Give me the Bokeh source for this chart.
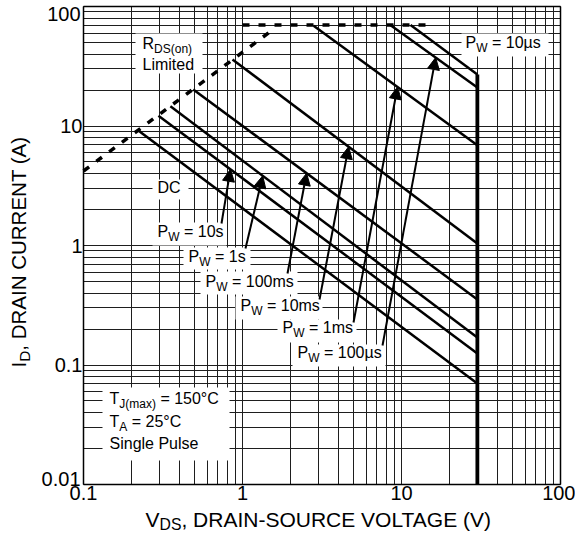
import math
from bokeh.plotting import figure
from bokeh.models import (FixedTicker, CustomJSTickFormatter, Label, Arrow,
                          NormalHead, ColumnDataSource, LogAxis)
from bokeh.core.properties import value
from bokeh.embed import file_html
from bokeh.resources import INLINE

# ---------------- data ----------------
pulse_labels = ["DC", "10s", "1s", "100ms", "10ms", "1ms", "100µs", "10µs"]
v_start = [0.22, 0.296, 0.352, 0.49, 0.865, 2.8, 8.5, 11.4]
i_start = [9.2, 12.2, 14.6, 20.2, 36.0, 69.0, 70.0, 70.0]
v_end = [30, 30, 30, 30, 30, 30, 30, 30]
i_end = [0.07, 0.125, 0.17, 0.354, 1.04, 6.9, 21.0, 27.0]

rds_v = [0.1, 1.6]          # R_DS(on) limit
rds_i = [4.2, 66.0]
idm_v = [1.0, 16.0]         # pulsed current limit
idm_i = [70.0, 70.0]
vmax_v = [30, 30]           # V_DS(max) limit
vmax_i = [0.01, 27.0]

x_lim = (0.1, 100)
y_lim = (0.01, 100)
x_major = [0.1, 1, 10, 100]
y_major = [0.1, 1, 10]
y_grid_major = [0.01, 0.1, 1, 10, 100]
x_decades = [-1, 0, 1]
y_decades = [-2, -1, 0, 1]
minor_mult = [2, 3, 4, 5, 6, 7, 8, 9]

arrow_pulse = ["10s", "1s", "100ms", "10ms", "1ms", "100µs"]
arrow_tip_v = [0.84, 1.34, 2.53, 4.65, 9.44, 16.4]

FONT = "Liberation Sans"
W_PX, H_PX = 575, 533
MID = 0.3465   # distance (in em) from alphabetic baseline up to the 'middle' anchor

# ---------------- helpers: page pixel -> data (log axes) ----------------
def dx(px):
    return 0.1 * 10 ** ((px - 83) / 159.0)

def dy(py):
    return 0.01 * 10 ** ((484 - py) / 119.5)

WID = {' ': 278, '(': 333, ')': 333, ',': 278, '-': 333, '.': 278, '=': 584,
       '°': 400, 'µ': 576, 'A': 667, 'C': 722, 'D': 722, 'E': 667, 'G': 778,
       'I': 278, 'J': 500, 'L': 556, 'N': 722, 'O': 778, 'P': 667, 'R': 722,
       'S': 667, 'T': 611, 'U': 722, 'V': 667, 'W': 944, 'a': 556, 'e': 556,
       'g': 556, 'i': 222, 'l': 222, 'm': 833, 'n': 556, 'o': 556, 's': 500,
       't': 278, 'u': 556, 'x': 500, 'd': 556}

def tw(s, size):
    return sum(WID.get(c, 556) for c in s) * size / 1000.0

def on_line(k, v):
    a, b = math.log(v_start[k]), math.log(v_end[k])
    t = (math.log(v) - a) / (b - a)
    return math.exp(math.log(i_start[k]) + t * (math.log(i_end[k]) - math.log(i_start[k])))

# ---------------- figure (frame = whole canvas; axes fixed at the chart box) ----
p = figure(width=W_PX, height=H_PX, x_axis_type="log", y_axis_type="log",
           x_range=(dx(0), dx(W_PX)), y_range=(dy(H_PX), dy(0)),
           output_backend="svg", toolbar_location=None)
p.min_border = 0
p.min_border_left = 0
p.min_border_right = 0
p.min_border_top = 0
p.min_border_bottom = 0
p.background_fill_color = "white"
p.border_fill_color = "white"
p.outline_line_color = None

minor_x = [m * 10 ** d for d in x_decades for m in minor_mult]
minor_y = [m * 10 ** d for d in y_decades for m in minor_mult]
p.xaxis.ticker = FixedTicker(ticks=x_major, minor_ticks=minor_x)
p.yaxis.ticker = FixedTicker(ticks=y_major, minor_ticks=minor_y)
p.xgrid.ticker = FixedTicker(ticks=x_major, minor_ticks=minor_x)
p.ygrid.ticker = FixedTicker(ticks=y_grid_major, minor_ticks=minor_y)
p.xgrid.bounds = x_lim
p.xgrid.cross_bounds = y_lim
p.ygrid.bounds = y_lim
p.ygrid.cross_bounds = x_lim
for g in (p.xgrid[0], p.ygrid[0]):
    g.grid_line_color = "#1e1e1e"
    g.grid_line_width = 1
    g.minor_grid_line_color = "#1e1e1e"
    g.minor_grid_line_width = 1

p.xaxis.fixed_location = y_lim[0]
p.xaxis.bounds = x_lim
p.yaxis.fixed_location = x_lim[0]
p.yaxis.bounds = y_lim
for ax in (p.xaxis[0], p.yaxis[0]):
    ax.major_tick_out = 0
    ax.major_tick_in = 0
    ax.minor_tick_out = 0
    ax.minor_tick_in = 0
    ax.axis_line_color = "black"
    ax.axis_line_width = 1.5
    ax.major_label_text_font = FONT
    ax.major_label_text_font_size = "20px"
    ax.major_label_text_color = "black"
    ax.formatter = CustomJSTickFormatter(code="return String(tick)")
p.xaxis.major_label_standoff = 1
p.yaxis.major_label_standoff = 1

# top and right border of the chart box
top_ax = LogAxis(fixed_location=y_lim[1], bounds=x_lim, ticker=FixedTicker(ticks=[]),
                 major_tick_out=0, major_tick_in=0, minor_tick_out=0, minor_tick_in=0,
                 axis_line_color="black", axis_line_width=1.5,
                 major_label_text_font_size="0px")
right_ax = LogAxis(fixed_location=x_lim[1], bounds=y_lim, ticker=FixedTicker(ticks=[]),
                   major_tick_out=0, major_tick_in=0, minor_tick_out=0, minor_tick_in=0,
                   axis_line_color="black", axis_line_width=1.5,
                   major_label_text_font_size="0px")
p.add_layout(top_ax, "above")
p.add_layout(right_ax, "right")

# ---------------- white label boxes ----------------
boxes = [(135, 33, 202, 73), (461, 33, 548, 56), (152, 179, 188, 199),
         (152, 222, 226, 245), (183, 247, 250, 269), (200, 271, 297, 294),
         (235, 296, 322, 319), (277, 319, 356, 342), (292, 344, 385, 366),
         (102, 387, 229, 460)]
p.quad(left=[dx(b[0]) for b in boxes], right=[dx(b[2]) for b in boxes],
       top=[dy(b[1]) for b in boxes], bottom=[dy(b[3]) for b in boxes],
       fill_color="white", line_color=None)

# ---------------- curves ----------------
p.line(rds_v, rds_i, line_color="black", line_width=3.5, line_dash="7 9")
p.line(idm_v, idm_i, line_color="black", line_width=3.5, line_dash="7 9")
p.multi_line(xs=[[a, b] for a, b in zip(v_start, v_end)],
             ys=[[a, b] for a, b in zip(i_start, i_end)],
             line_color="black", line_width=2.5)
p.line(vmax_v, vmax_i, line_color="black", line_width=3.8)

# ---------------- in-plot text (with subscripts) ----------------
tx, ty, tt, tf = [], [], [], []

def rich(px, py, parts, size=16):
    cx = px
    for text, sub in parts:
        s = size * 0.75 if sub else size
        yy = py + 4 if sub else py
        lead = len(text) - len(text.lstrip(" "))
        cx += tw(" " * lead, s)
        body = text.lstrip(" ")
        tx.append(dx(cx)); ty.append(dy(yy - MID * s)); tt.append(body); tf.append(f"{s}px")
        cx += tw(body, s)

rich(142, 49, [("R", False), ("DS(on)", True)])
rich(142, 70, [("Limited", False)])
rich(465, 48, [("P", False), ("W", True), (" = 10µs", False)])
rich(157, 193, [("DC", False)])
label_pos = {"10s": (157, 237), "1s": (188, 262), "100ms": (205, 287),
             "10ms": (240, 311), "1ms": (282, 333), "100µs": (297, 358)}
for name, (lx, ly) in label_pos.items():
    rich(lx, ly, [("P", False), ("W", True), (" = " + name, False)])
rich(109, 404, [("T", False), ("J(max)", True), (" = 150°C", False)])
rich(109, 427, [("T", False), ("A", True), (" = 25°C", False)])
rich(109, 449, [("Single Pulse", False)])

src = ColumnDataSource(dict(x=tx, y=ty, text=tt, fs=tf))
p.text(x="x", y="y", text="text", source=src, text_font=value(FONT),
       text_font_size="fs", text_color="black", text_align="left",
       text_baseline="middle")

# ---------------- arrows ----------------
arrow_tail = {"10s": (221, 223), "1s": (245, 248), "100ms": (287, 273),
              "10ms": (319, 299), "1ms": (353, 322), "100µs": (382, 345)}
for name, tv in zip(arrow_pulse, arrow_tip_v):
    k = pulse_labels.index(name)
    tx0, ty0 = arrow_tail[name]
    p.add_layout(Arrow(end=NormalHead(size=12, fill_color="black", line_color="black"),
                       x_start=dx(tx0), y_start=dy(ty0), x_end=tv, y_end=on_line(k, tv),
                       line_color="black", line_width=2))

# ---------------- end tick labels + axis titles ----------------
for txt, py in (("100", 20), ("0.01", 485)):
    p.add_layout(Label(x=dx(80), y=dy(py - MID * 20), text=txt, text_font=FONT,
                       text_font_size="20px", text_align="right",
                       text_baseline="middle", text_color="black"))

def outside(px, py, text, size, angle=0.0):
    if angle == 0.0:
        x, y = px, py - MID * size
    else:
        x, y = px - MID * size, py
    p.add_layout(Label(x=dx(x), y=dy(y), text=text, text_font=FONT,
                       text_font_size=f"{size}px", text_align="left",
                       text_baseline="middle", text_color="black", angle=angle))

# x title
xs0 = 145
outside(xs0, 526, "V", 21)
outside(xs0 + tw("V", 21), 529.3, "DS", 15.75)
outside(xs0 + tw("V", 21) + tw("DS", 15.75), 526, ", DRAIN-SOURCE VOLTAGE (V)", 21)

# y title (rotated)
ys0 = 367
a = math.pi / 2
outside(25, ys0, "I", 20.5, a)
outside(29, ys0 - tw("I", 20.5), "D", 15.4, a)
outside(25, ys0 - tw("I", 20.5) - tw("D", 15.4), ", DRAIN CURRENT (A)", 20.5, a)

open("out.html", "w").write(file_html(p, INLINE))
